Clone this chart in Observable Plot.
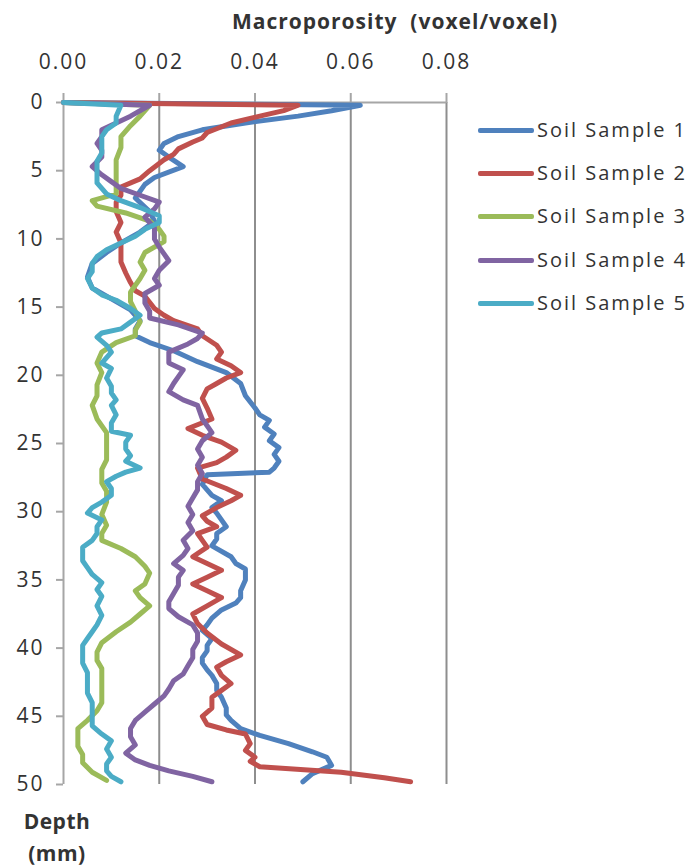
<!DOCTYPE html>
<html>
<head>
<meta charset="utf-8">
<script src="https://cdn.jsdelivr.net/npm/d3@7"></script>
<script src="https://cdn.jsdelivr.net/npm/@observablehq/plot@0.6"></script>
<style>
  body { margin: 0; background: #fff; }
  #wrap { position: relative; width: 694px; height: 866px; font-family: "Open Sans", sans-serif; color: #333; overflow: hidden; }
  #wrap svg text { letter-spacing: 2px; }
  .title { position: absolute; left: 395px; top: 8px; transform: translateX(-50%); font-weight: bold; font-size: 21px; line-height: 26px; letter-spacing: 1px; white-space: pre; }
  .ylab { position: absolute; left: 17px; top: 805px; width: 80px; text-align: center; font-weight: bold; font-size: 21px; line-height: 32px; letter-spacing: 0.5px; }
  .leg { position: absolute; left: 478px; height: 26px; line-height: 26px; font-size: 20px; letter-spacing: 2px; white-space: nowrap; }
  .leg .sw { display: inline-block; width: 56px; height: 5px; border-radius: 2px; vertical-align: middle; margin-right: 3px; position: relative; top: -1px; }
</style>
</head>
<body>
<div id="wrap"></div>
<script>
// ---------- data (depth in mm, macroporosity in voxel/voxel) ----------
const seriesNames = ["Soil Sample 1", "Soil Sample 2", "Soil Sample 3", "Soil Sample 4", "Soil Sample 5"];
const seriesColors = ["#4F81BD", "#C0504D", "#9BBB59", "#8064A2", "#4BACC6"];
const xTicks = [0, 0.02, 0.04, 0.06, 0.08];
const yTicks = [0, 5, 10, 15, 20, 25, 30, 35, 40, 45, 50];

const sample1 = [[0,0],[0.2,0.062],[0.6,0.056],[1,0.049],[1.5,0.038],[2,0.029],[2.5,0.024],[3,0.021],[3.5,0.020],[4,0.022],[4.7,0.025],[5.5,0.019],[6,0.017],[7,0.015],[8,0.018],[8.7,0.019],[9.5,0.016],[10.3,0.012],[11,0.009],[11.8,0.006],[12.8,0.005],[13.6,0.006],[14.4,0.010],[15.2,0.014],[16,0.016],[16.6,0.015],[17.1,0.015],[17.6,0.018],[18.2,0.023],[19,0.028],[19.8,0.034],[20.6,0.037],[21.5,0.038],[22.4,0.040],[22.9,0.041],[23.3,0.043],[23.8,0.042],[24.3,0.044],[24.8,0.043],[25.3,0.045],[25.8,0.044],[26.3,0.045],[26.8,0.044],[27.1,0.043],[27.3,0.030],[28,0.029],[28.8,0.031],[29.2,0.033],[29.7,0.031],[30.1,0.032],[30.6,0.033],[31.1,0.034],[31.6,0.032],[32,0.032],[32.5,0.031],[33.3,0.035],[33.8,0.036],[34.2,0.038],[35,0.038],[35.8,0.037],[36.3,0.037],[36.7,0.036],[37.2,0.033],[37.8,0.031],[38.3,0.030],[38.7,0.029],[39.3,0.031],[39.8,0.030],[40.2,0.030],[40.7,0.029],[41.1,0.029],[41.6,0.030],[42,0.031],[42.6,0.032],[43.1,0.032],[43.6,0.033],[44.4,0.034],[44.9,0.034],[45.3,0.035],[45.9,0.037],[46.4,0.041],[47,0.047],[47.6,0.052],[48,0.055],[48.6,0.056],[49.2,0.052],[49.8,0.050]];
const sample2 = [[0,0],[0.2,0.049],[0.6,0.046],[1,0.041],[1.5,0.035],[2.2,0.030],[2.6,0.029],[2.9,0.027],[3.4,0.024],[3.8,0.023],[4.2,0.021],[5,0.018],[5.6,0.016],[6.2,0.012],[6.8,0.012],[7.3,0.011],[8,0.011],[8.8,0.012],[9.5,0.011],[10.3,0.012],[11,0.012],[11.7,0.012],[12.5,0.013],[13.2,0.014],[13.8,0.015],[14.2,0.017],[15.1,0.019],[15.6,0.021],[16,0.023],[16.6,0.028],[17.1,0.029],[17.8,0.032],[18.3,0.033],[18.8,0.032],[19.3,0.035],[19.8,0.037],[20.2,0.034],[20.6,0.032],[21,0.030],[21.7,0.029],[22.4,0.030],[23.2,0.031],[23.9,0.026],[24.4,0.029],[24.9,0.033],[25.5,0.036],[26,0.034],[26.4,0.032],[26.8,0.028],[27.6,0.029],[28.3,0.034],[28.8,0.037],[29.2,0.035],[29.7,0.032],[30.3,0.029],[30.7,0.030],[31.1,0.032],[31.6,0.028],[32.1,0.029],[32.6,0.030],[33.3,0.027],[33.8,0.030],[34.3,0.033],[34.8,0.030],[35.3,0.027],[35.8,0.030],[36.3,0.033],[36.9,0.030],[37.5,0.027],[38.2,0.028],[38.9,0.030],[39.7,0.033],[40.5,0.037],[41,0.034],[41.4,0.032],[42,0.033],[42.6,0.035],[43.1,0.033],[43.6,0.031],[44.4,0.031],[45,0.029],[45.6,0.030],[46,0.034],[46.3,0.038],[47,0.039],[47.5,0.038],[48,0.040],[48.3,0.039],[48.7,0.041],[49.1,0.058],[49.5,0.067],[49.8,0.0725]];
const sample3 = [[0,0],[0.2,0.018],[1,0.016],[1.7,0.014],[2.5,0.012],[3.3,0.012],[4.2,0.011],[5.2,0.011],[6.2,0.011],[6.7,0.011],[7.2,0.006],[7.6,0.007],[8.1,0.013],[8.7,0.018],[9.3,0.020],[9.8,0.021],[10.2,0.021],[11,0.017],[11.7,0.016],[12.3,0.017],[12.9,0.016],[13.9,0.014],[14.6,0.014],[15.3,0.015],[16.1,0.016],[16.7,0.015],[17.1,0.015],[17.6,0.011],[18.3,0.008],[19.1,0.007],[19.8,0.008],[20.7,0.007],[21.5,0.007],[22.2,0.006],[23.2,0.007],[24.2,0.009],[24.8,0.009],[25.5,0.009],[26.2,0.009],[26.9,0.008],[27.9,0.008],[28.5,0.009],[29.3,0.009],[30.2,0.008],[31,0.009],[31.6,0.008],[32.1,0.008],[32.7,0.012],[33.3,0.015],[34,0.017],[34.5,0.018],[35.3,0.017],[35.8,0.015],[36.3,0.016],[36.9,0.018],[37.5,0.016],[38.1,0.014],[38.8,0.011],[39.6,0.008],[40.3,0.007],[40.9,0.007],[41.5,0.008],[42.3,0.008],[43.2,0.008],[44,0.008],[44.6,0.007],[45.3,0.005],[45.9,0.003],[46.5,0.003],[47.2,0.003],[47.8,0.004],[48.4,0.004],[49.1,0.006],[49.7,0.009]];
const sample4 = [[0,0],[0.2,0.018],[1,0.014],[1.5,0.011],[2,0.008],[2.5,0.008],[3,0.007],[3.5,0.008],[4,0.008],[4.7,0.006],[5.3,0.008],[5.8,0.010],[6.3,0.012],[6.8,0.016],[7.3,0.020],[7.8,0.019],[8.4,0.017],[9.2,0.019],[10,0.019],[10.6,0.020],[11.1,0.021],[11.6,0.022],[12.3,0.020],[12.9,0.019],[13.4,0.020],[14,0.017],[14.7,0.017],[15.3,0.018],[15.8,0.018],[16.3,0.024],[16.9,0.029],[17.3,0.028],[17.7,0.026],[18.3,0.022],[19.1,0.022],[19.6,0.025],[20.1,0.024],[20.6,0.023],[21.2,0.022],[21.8,0.025],[22.2,0.028],[23.2,0.029],[23.7,0.030],[24.2,0.031],[24.8,0.029],[25.4,0.028],[26,0.029],[26.6,0.028],[27.2,0.029],[27.8,0.028],[28.4,0.028],[29,0.027],[29.6,0.026],[30.2,0.027],[30.8,0.026],[31.4,0.027],[32.1,0.025],[32.7,0.026],[33.2,0.025],[33.8,0.023],[34.3,0.025],[34.8,0.024],[35.4,0.024],[36,0.023],[36.6,0.022],[37.1,0.022],[37.7,0.024],[38.3,0.027],[38.9,0.028],[39.5,0.028],[40.1,0.027],[40.7,0.027],[41.3,0.026],[41.9,0.025],[42.4,0.023],[43,0.022],[43.5,0.021],[44.1,0.019],[44.7,0.017],[45.3,0.015],[45.9,0.014],[46.5,0.014],[47.1,0.015],[47.7,0.013],[48.2,0.015],[48.6,0.018],[49,0.022],[49.4,0.027],[49.8,0.031]];
const sample5 = [[0,0],[0.2,0.012],[1,0.011],[1.5,0.011],[2,0.009],[2.5,0.008],[3,0.008],[3.7,0.008],[4.3,0.007],[5.2,0.007],[5.9,0.007],[6.7,0.009],[7.2,0.012],[7.7,0.016],[8.3,0.020],[8.8,0.020],[9.3,0.017],[9.8,0.015],[10.3,0.012],[10.8,0.009],[11.3,0.007],[11.8,0.006],[12.4,0.006],[12.9,0.005],[13.6,0.006],[14.1,0.008],[14.5,0.011],[15.1,0.014],[15.6,0.016],[16.1,0.014],[16.6,0.012],[16.9,0.008],[17.2,0.007],[17.8,0.009],[18.3,0.010],[18.7,0.009],[19.1,0.008],[19.5,0.010],[20.2,0.009],[20.8,0.010],[21.3,0.010],[21.8,0.011],[22.2,0.010],[22.9,0.011],[23.5,0.010],[24.1,0.010],[24.4,0.014],[24.9,0.013],[25.4,0.013],[25.9,0.014],[26.3,0.013],[26.8,0.016],[27.1,0.013],[27.4,0.011],[27.8,0.009],[28.3,0.010],[28.8,0.010],[29.3,0.008],[29.7,0.006],[30.1,0.005],[30.6,0.008],[31.1,0.007],[31.6,0.007],[32.1,0.006],[32.6,0.004],[33.1,0.004],[33.6,0.004],[34.1,0.005],[34.6,0.006],[35.2,0.008],[35.7,0.007],[36.2,0.008],[36.9,0.007],[37.6,0.008],[38.3,0.007],[38.8,0.006],[39.3,0.005],[39.8,0.004],[40.5,0.004],[41.1,0.004],[41.8,0.005],[42.6,0.005],[43.3,0.005],[44,0.006],[44.6,0.006],[45.2,0.006],[45.7,0.006],[46.3,0.008],[46.8,0.010],[47.4,0.009],[48,0.010],[48.5,0.009],[49,0.009],[49.4,0.010],[49.8,0.012]];

const seriesData = [sample1, sample2, sample3, sample4, sample5];

// ---------- chart ----------
const lineMarks = seriesData.map((s, i) =>
  Plot.line(s, {
    x: d => d[1], y: d => d[0],
    stroke: seriesColors[i], strokeWidth: 5,
    strokeLinejoin: "round", strokeLinecap: "round"
  })
);

const chart = Plot.plot({
  width: 694,
  height: 866,
  marginLeft: 63,
  marginRight: 248,
  marginTop: 102,
  marginBottom: 82,
  style: { fontFamily: "Open Sans, sans-serif", fontSize: "21px", color: "#333", background: "white", overflow: "visible" },
  x: { domain: [0, 0.08] },
  y: { domain: [0, 50], reverse: true },
  marks: [
    Plot.ruleX(xTicks.slice(1), { stroke: "#8e8e8e", strokeWidth: 2 }),
    Plot.ruleY([0], { stroke: "#a6a6a6", strokeWidth: 2 }),
    Plot.ruleX([0], { stroke: "#a6a6a6", strokeWidth: 2 }),
    Plot.axisX({ anchor: "top", ticks: xTicks, tickFormat: d3.format(".2f"), tickSize: 10, tickPadding: 24, stroke: "#a6a6a6", strokeWidth: 2, label: null, fontSize: 21 }),
    Plot.axisY({ anchor: "left", ticks: yTicks, tickSize: 7, tickPadding: 12, stroke: "#a6a6a6", strokeWidth: 2, label: null, fontSize: 21 }),
    ...lineMarks
  ]
});

const wrap = document.getElementById("wrap");
wrap.appendChild(chart);

const title = document.createElement("div");
title.className = "title";
title.textContent = "Macroporosity  (voxel/voxel)";
wrap.appendChild(title);

const ylab = document.createElement("div");
ylab.className = "ylab";
ylab.innerHTML = "Depth<br>(mm)";
wrap.appendChild(ylab);

const legendY = [130, 173, 216, 260, 303];
seriesNames.forEach((name, i) => {
  const row = document.createElement("div");
  row.className = "leg";
  row.style.top = (legendY[i] - 13) + "px";
  const sw = document.createElement("span");
  sw.className = "sw";
  sw.style.background = seriesColors[i];
  row.appendChild(sw);
  row.appendChild(document.createTextNode(name));
  wrap.appendChild(row);
});
</script>
</body>
</html>
